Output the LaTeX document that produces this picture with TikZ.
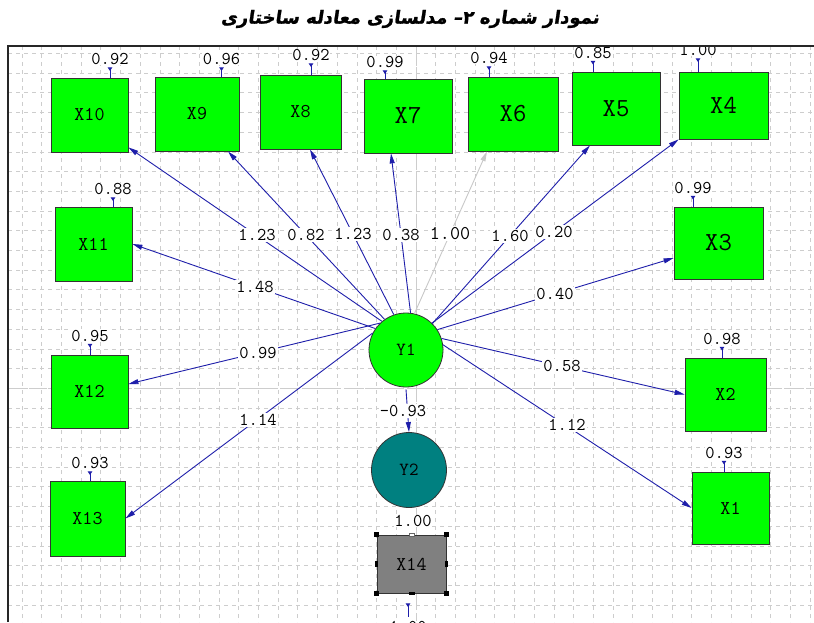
\documentclass[tikz,border=0pt]{standalone}
\usepackage{fontspec}
\usetikzlibrary{arrows.meta}
\TeXXeTstate=1
\newfontfamily\arabicfont[Script=Arabic,FakeSlant=0.15,FakeBold=1.2]{DejaVu Sans}
\definecolor{pathblue}{RGB}{30,30,170}
\definecolor{boxgreen}{RGB}{0,255,0}
\definecolor{tealfill}{RGB}{0,128,128}
\definecolor{gridgray}{RGB}{205,205,205}
\definecolor{fixgray}{RGB}{200,200,200}
\begin{document}
\begin{tikzpicture}[x=1pt,y=-1pt,
  gridln/.style={draw=gridgray, line width=0.8pt, dash pattern=on 4pt off 4pt},
  centerln/.style={draw=gridgray, line width=0.9pt, dash pattern=on 18pt off 3pt},
  obsbox/.style={draw=black!80, line width=0.8pt, fill=boxgreen, inner sep=0pt},
  smalltxt/.style={font=\ttfamily\fontsize{19.5}{19.5}\selectfont},
  bigtxt/.style={font=\ttfamily\fontsize{26}{26}\selectfont},
  latent/.style={circle, draw=black!80, line width=0.8pt, inner sep=0pt, minimum size=74pt, font=\ttfamily\fontsize{18.5}{18.5}\selectfont},
  pth/.style={draw=pathblue, line width=0.9pt, -{Triangle[length=10pt,width=5pt]}},
  fixpth/.style={draw=fixgray, line width=0.9pt, -{Triangle[length=10pt,width=5pt]}},
  coef/.style={fill=white, inner sep=1pt, font=\ttfamily\fontsize{18}{18}\selectfont},
  errlbl/.style={fill=white, inner sep=0.5pt, font=\ttfamily\fontsize{18}{18}\selectfont},
  errtick/.style={draw=pathblue, line width=1pt, {Triangle[reversed,length=3.5pt,width=4.5pt]}-},
  handle/.style={fill=black, inner sep=0pt, minimum size=5pt},
  handlew/.style={fill=white, draw=black!60, inner sep=0pt, minimum width=5pt, minimum height=3pt}]
\useasboundingbox (0,0) rectangle (814,622);
\fill[white] (0,0) rectangle (814,622);

\node[font=\arabicfont\bfseries\fontsize{18}{18}\selectfont] (title) at (410,19)
  {\beginR نمودار شماره ۲– مدلسازی معادله ساختاری\endR};

\begin{scope}
\clip (8,46) rectangle (814,622);
% grid
\foreach \k in {-20,...,20}{\draw[gridln] ({416+19.7*\k},46) -- ({416+19.7*\k},622);}
\foreach \k in {-18,...,12}{\draw[gridln] (8,{388.3+19.7*\k}) -- (814,{388.3+19.7*\k});}
\draw[centerln] (416,46) -- (416,622);
\draw[centerln] (8,388.3) -- (814,388.3);

% observed variables
\node[obsbox, smalltxt, minimum width=77pt, minimum height=74pt] (X10) at (89.5,115) {X10};
\node[obsbox, smalltxt, minimum width=84pt, minimum height=74pt] (X9) at (197,114) {X9};
\node[obsbox, smalltxt, minimum width=81pt, minimum height=74pt] (X8) at (300.5,112) {X8};
\node[obsbox, bigtxt, minimum width=88pt, minimum height=74pt] (X7) at (408,116) {X7};
\node[obsbox, bigtxt, minimum width=90pt, minimum height=74pt] (X6) at (513,114) {X6};
\node[obsbox, bigtxt, minimum width=88pt, minimum height=73pt] (X5) at (616,108.5) {X5};
\node[obsbox, bigtxt, minimum width=89pt, minimum height=67pt] (X4) at (723.5,105.5) {X4};
\node[obsbox, smalltxt, minimum width=77pt, minimum height=74pt] (X11) at (93.5,244) {X11};
\node[obsbox, smalltxt, minimum width=77pt, minimum height=73pt] (X12) at (89.5,391.5) {X12};
\node[obsbox, smalltxt, minimum width=75pt, minimum height=75pt] (X13) at (87.5,518.5) {X13};
\node[obsbox, bigtxt, minimum width=89pt, minimum height=72pt] (X3) at (718.5,243) {X3};
\node[obsbox, smalltxt, minimum width=81pt, minimum height=73pt] (X2) at (725.5,394.5) {X2};
\node[obsbox, smalltxt, minimum width=77pt, minimum height=72pt] (X1) at (730.5,508) {X1};
\node[obsbox, smalltxt, fill=gray, minimum width=69pt, minimum height=58pt] (X14) at (411.5,564) {X14};

% latent variables
\node[latent, fill=boxgreen] (Y1) at (406,350) {Y1};
\node[latent, fill=tealfill, minimum size=75pt] (Y2) at (409,470) {Y2};

% selection handles on X14
\node[handle] (h1) at (X14.north west) {};
\node[handle] (h2) at (X14.north east) {};
\node[handle] (h3) at (X14.south west) {};
\node[handle] (h4) at (X14.south east) {};
\node[handlew] (h5) at (X14.north) {};
\node[handle, minimum width=6pt, minimum height=3pt] (h6) at (X14.south) {};
\node[handle, minimum width=3pt, minimum height=6pt] (h7) at (X14.west) {};
\node[handle, minimum width=3pt, minimum height=6pt] (h8) at (X14.east) {};

% paths from Y1
\draw[pth] (Y1.130) -- ([yshift=5pt]X10.south east);
\draw[pth] (Y1.125) -- ([xshift=31pt]X9.south);
\draw[pth] (Y1.109) -- ([xshift=9.5pt]X8.south);
\draw[pth] (Y1.83) -- ([xshift=-17pt]X7.south);
\draw[fixpth] (Y1.77.5) -- ([xshift=-26pt]X6.south);
\draw[pth] (Y1.45) -- ([xshift=-26pt]X5.south);
\draw[pth] (Y1.46) -- (X4.south west);
\draw[pth] (Y1.145.6) -- (X11.east);
\draw[pth] (Y1.134.7) -- ([yshift=7.5pt]X12.east);
\draw[pth] (Y1.153) -- (X13.east);
\draw[pth] (Y1.33) -- ([yshift=-15pt]X3.west);
\draw[pth] (Y1.18) -- (X2.west);
\draw[pth] (Y1.8.7) -- (X1.west);
\draw[pth] ([yshift=-2pt]Y1.south) -- (Y2.north);

% path coefficients
\node[coef] (p10) at (257,235) {1.23};
\node[coef] (p9) at (306,235) {0.82};
\node[coef] (p8) at (353,234) {1.23};
\node[coef] (p7) at (401,235) {0.38};
\node[coef, font=\ttfamily\fontsize{19.5}{19.5}\selectfont] (p6) at (450,233.5) {1.00};
\node[coef] (p5) at (510,236) {1.60};
\node[coef] (p4) at (554,232) {0.20};
\node[coef] (p11) at (255,287) {1.48};
\node[coef] (p3) at (555,294) {0.40};
\node[coef] (p12) at (258,353) {0.99};
\node[coef] (p2) at (562,366) {0.58};
\node[coef] (p13) at (258,420) {1.14};
\node[coef] (p1) at (567,425) {1.12};
\node[coef] (p21) at (403,411) {-0.93};

% error variances
\node[errlbl] (e10) at (110,59) {0.92};
\node[errlbl] (e9) at (221.5,59) {0.96};
\node[errlbl] (e8) at (311,55) {0.92};
\node[errlbl] (e7) at (385,62) {0.99};
\node[errlbl] (e6) at (489,58) {0.94};
\node[errlbl] (e5) at (593,52.5) {0.85};
\node[errlbl] (e4) at (698,50) {1.00};
\node[errlbl] (e11) at (113,189) {0.88};
\node[errlbl] (e12) at (90,335.5) {0.95};
\node[errlbl] (e13) at (90,463) {0.93};
\node[errlbl] (e3) at (693,187.5) {0.99};
\node[errlbl] (e2) at (722,338.5) {0.98};
\node[errlbl] (e1) at (724,452.5) {0.93};
\node[errlbl] (e14a) at (413,521) {1.00};
\node[errlbl] (e14b) at (408,627) {1.00};

\foreach \e/\x in {e10/X10,e9/X9,e8/X8,e7/X7,e6/X6,e5/X5,e4/X4,e11/X11,e12/X12,e13/X13,e3/X3,e2/X2,e1/X1}{
  \draw[errtick] ([yshift=-2pt]\e.south) -- (\e.south |- \x.north);
}
\draw[errtick] ([yshift=-10pt]X14.south -| e14b) -- ([yshift=4pt]e14b.north);
\end{scope}

% frame
\draw[black!85, line width=1.2pt] (8,622) -- (8,46) -- (814,46);
\end{tikzpicture}
\end{document}
